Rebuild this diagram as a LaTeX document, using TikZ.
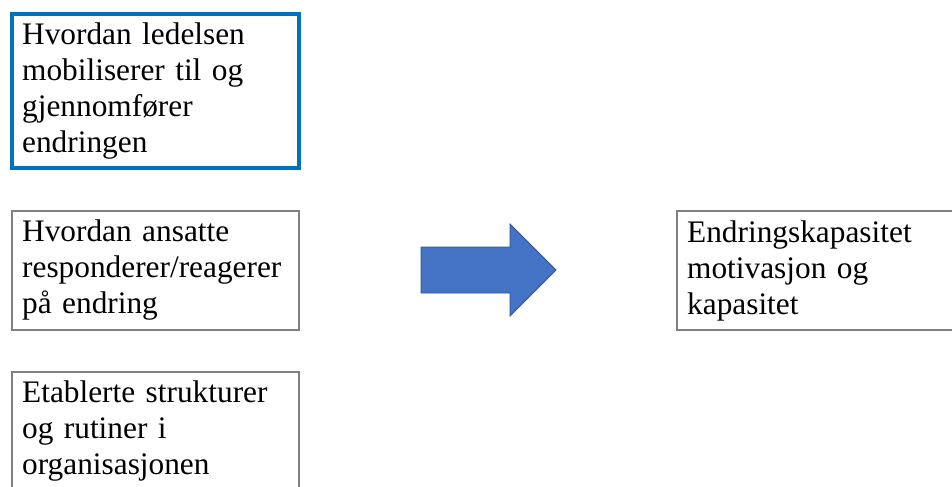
\documentclass[tikz,border=0pt]{standalone}
\usepackage{fontspec}
\setmainfont{Liberation Serif}

\definecolor{leadblue}{HTML}{0070C0}
\definecolor{boxgray}{HTML}{808080}
\definecolor{arrowfill}{HTML}{4472C4}
\definecolor{arrowline}{HTML}{2F528F}

\tikzset{
    factor/.style={draw=boxgray, line width=1.5pt, anchor=north west, outer sep=0pt,
        minimum width=215.25pt, minimum height=89.25pt, inner xsep=7.5pt,
        text width=200pt, align=left, font=\fontsize{23.5}{27}\selectfont},
    leader/.style={factor, draw=leadblue, line width=3.4pt, minimum height=115.5pt},
}

\begin{document}
\begin{tikzpicture}[x=0.75pt,y=-0.75pt]
    \useasboundingbox (0,0) rectangle (952,486);

    \node[leader] (L) at (12,14) {Hvordan ledelsen\\mobiliserer til og\\gjennomfører\\endringen};
    \node[factor] (A) at (12,211) {Hvordan ansatte\\responderer/reagerer\\på endring};
    \node[factor] (O) at (12,372) {Etablerte strukturer\\og rutiner i\\organisasjonen};
    \node[factor] (K) at (677,211) {Endringskapasitet\\motivasjon og\\kapasitet};

    \draw[fill=arrowfill, draw=arrowline, line width=0.6pt, line join=miter]
        (421,247) -- (510,247) -- (510,224) -- (556,270) -- (510,316) -- (510,293) -- (421,293) -- cycle;
\end{tikzpicture}
\end{document}
